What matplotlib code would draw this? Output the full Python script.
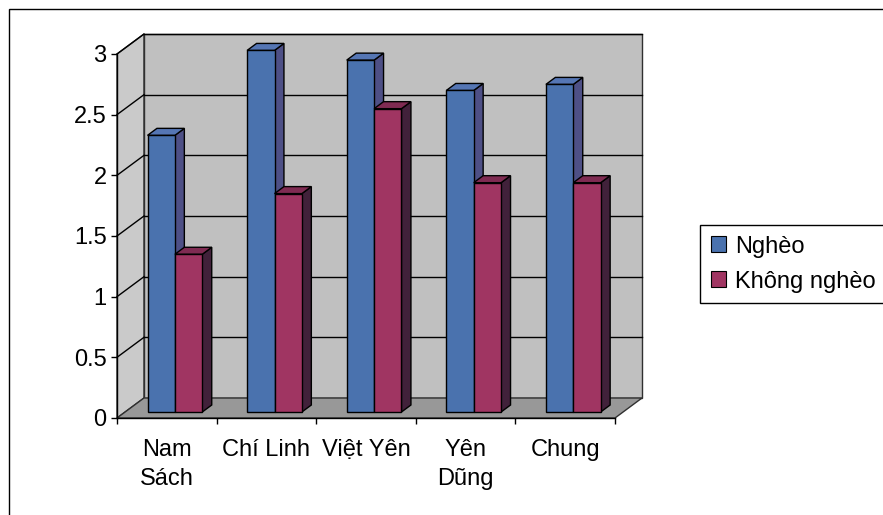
import matplotlib
matplotlib.use("Agg")
import numpy as np
import matplotlib.pyplot as plt
from matplotlib.patches import Polygon, Patch, Rectangle

plt.rcParams['font.family'] = ['Liberation Sans', 'DejaVu Sans']

# data
regions = ["Nam\nSách", "Chí Linh", "Việt Yên", "Yên\nDũng", "Chung"]
series_names = ["Nghèo", "Không nghèo"]
ngheo = [2.28, 2.98, 2.90, 2.65, 2.70]
khong_ngheo = [1.30, 1.80, 2.50, 1.89, 1.89]
yticks = [0, 0.5, 1, 1.5, 2, 2.5, 3]

# colours: front, side, top
blue = ("#4a72ae", "#4e5086", "#5576b4")
red = ("#a03562", "#41213a", "#7f2b52")

W, H = 883, 515
fig = plt.figure(figsize=(W / 100, H / 100), dpi=100)
fig.patches.append(Rectangle((8.5 / W, -0.05), 1.0, 1.05 - 8.5 / H,
                             transform=fig.transFigure, fill=False,
                             edgecolor="black", lw=1))

# front plane of the plot box in pixels
x0, x1, y0, y1 = 117, 615, 418, 54
ax = fig.add_axes([x0 / W, (H - y0) / H, (x1 - x0) / W, (y0 - y1) / H])
n = len(regions)
ymax = 3
ax.set_xlim(0, n)
ax.set_ylim(0, ymax)
ax.patch.set_visible(False)

# oblique depth offset in data units
DX = 27 / ((x1 - x0) / n)
DY = 20 / ((y0 - y1) / ymax)

# walls and floor
left_wall = Polygon([(0, 0), (DX, DY), (DX, ymax + DY), (0, ymax)],
                    facecolor="#cacaca", edgecolor="#303030", lw=1,
                    clip_on=False, zorder=0)
back_wall = Polygon([(DX, DY), (n + DX, DY), (n + DX, ymax + DY), (DX, ymax + DY)],
                    facecolor="#c0c0c0", edgecolor="#303030", lw=1,
                    clip_on=False, zorder=0)
floor = Polygon([(0, 0), (n, 0), (n + DX, DY), (DX, DY)],
                facecolor="#989898", edgecolor="#303030", lw=1,
                clip_on=False, zorder=0)
for p in (left_wall, back_wall, floor):
    ax.add_patch(p)

for v in yticks[1:]:
    ax.plot([DX, n + DX], [v + DY, v + DY], color="black", lw=1,
            clip_on=False, zorder=1)
    ax.plot([0, DX], [v, v + DY], color="black", lw=1, clip_on=False, zorder=1)

# bars
W_BAR = 0.275
D0 = 0.3
BD = 0.35
base = D0 * DY
for s, (vals, cols) in enumerate([(ngheo, blue), (khong_ngheo, red)]):
    xs = np.arange(n) + 0.5 + D0 * DX + (s - 0.5) * W_BAR
    ax.bar(xs, vals, width=W_BAR, bottom=base, color=cols[0],
           edgecolor="black", lw=1, zorder=4 + 2 * s, clip_on=False)
    for xc, v in zip(xs, vals):
        xl, xr = xc - W_BAR / 2, xc + W_BAR / 2
        top = v + base
        bdx, bdy = BD * DX, BD * DY
        side = Polygon([(xr, base), (xr + bdx, base + bdy),
                        (xr + bdx, top + bdy), (xr, top)],
                       facecolor=cols[1], edgecolor="black", lw=1,
                       clip_on=False, zorder=3 + 2 * s)
        lid = Polygon([(xl, top), (xr, top), (xr + bdx, top + bdy),
                       (xl + bdx, top + bdy)],
                      facecolor=cols[2], edgecolor="black", lw=1,
                      clip_on=False, zorder=3 + 2 * s)
        ax.add_patch(side)
        ax.add_patch(lid)

# axes
for sp in ("top", "right"):
    ax.spines[sp].set_visible(False)
for sp in ("left", "bottom"):
    ax.spines[sp].set_linewidth(1)
    ax.spines[sp].set_zorder(2)

ax.set_yticks(yticks)
ax.set_yticklabels([f"{v:g}" for v in yticks])
ax.tick_params(axis="y", direction="out", length=4.5, width=1, pad=3,
               labelsize=17)
ax.set_xticks(np.arange(n + 1))
ax.set_xticklabels([])
ax.set_xticks(np.arange(n) + 0.5, minor=True)
ax.set_xticklabels(regions, minor=True, linespacing=1.45)
ax.tick_params(axis="x", which="major", direction="out", length=4.5, width=1)
ax.tick_params(axis="x", which="minor", length=0, pad=15, labelsize=17)

handles = [Patch(facecolor=blue[0], edgecolor="black", lw=0.8),
           Patch(facecolor=red[0], edgecolor="black", lw=0.8)]
leg = fig.legend(handles, series_names, loc="upper left",
                 bbox_to_anchor=(700 / W, 1 - 225 / H),
                 bbox_transform=fig.transFigure, frameon=True, fancybox=False,
                 edgecolor="black", framealpha=1, fontsize=17,
                 handlelength=0.65, handleheight=0.65, handletextpad=0.4,
                 labelspacing=0.55, borderpad=0.45, borderaxespad=0)
leg.get_frame().set_linewidth(1)

fig.savefig("out.png", dpi=100)
